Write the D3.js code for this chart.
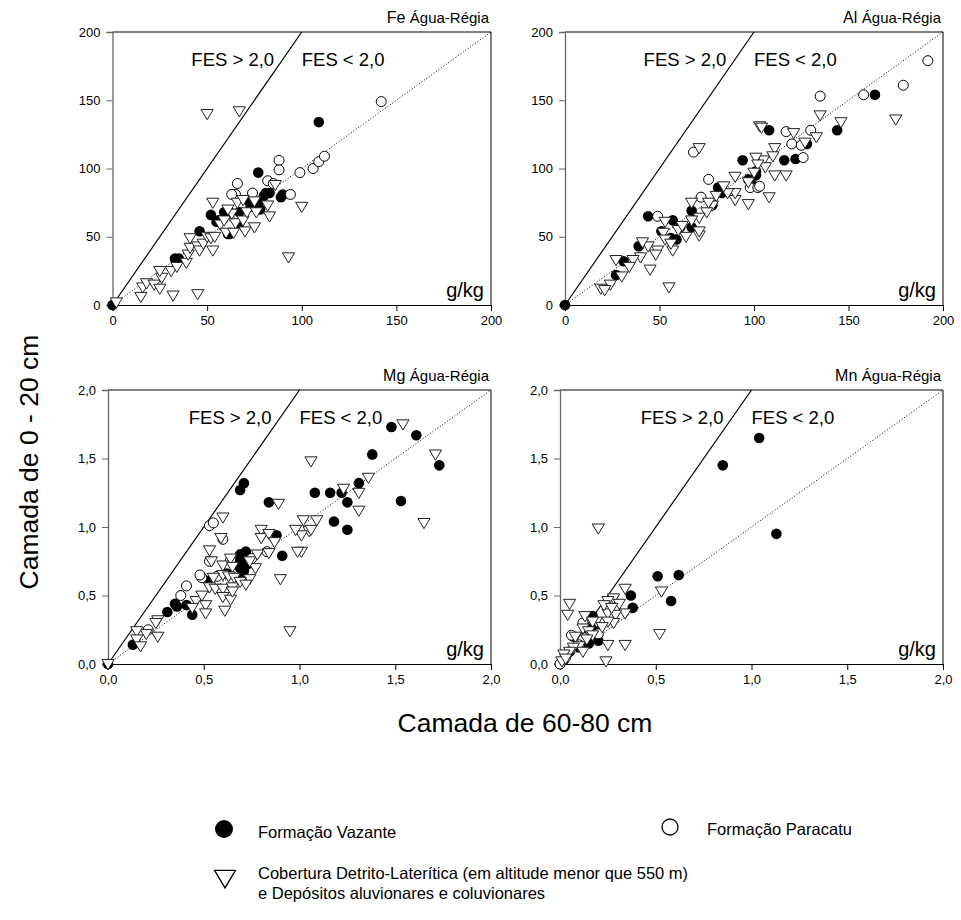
<!DOCTYPE html>
<html><head><meta charset="utf-8">
<script src="https://cdn.jsdelivr.net/npm/d3@7"></script>
<style>body{margin:0;background:#fff}svg{display:block}text{font-family:"Liberation Sans",Arial,sans-serif}</style>
</head><body><svg id="c" width="961" height="920"></svg>
<script>
// ---------- DATA ----------
const seriesNames = ["Formação Vazante", "Formação Paracatu", "Cobertura Detrito-Laterítica (em altitude menor que 550 m)", "e Depósitos aluvionares e coluvionares"];
const ticksFeAl = [0, 50, 100, 150, 200];
const ticksMgMn = [0, 0.5, 1.0, 1.5, 2.0];

const feVazante = [[0,0],[33,34],[35,34],[46,54],[52,66],[55,61],[59,68],[67,68],[62,52],[72,76],[77,97],[77,74],[81,82],[83,82],[89,79],[90,81],[78,70],[67,60],[109,134],[56,62],[73,72],[62,68],[61,52],[80,80]];
const feParacatu = [[66,89],[88,106],[88,99],[82,91],[85,89],[99,97],[106,100],[94,81],[65,81],[63,81],[142,149],[109,105],[112,109],[74,82]];
const feCobertura = [[50,140],[67,142],[93,35],[100,72],[45,8],[32,7],[15,6],[16,13],[18,16],[22,15],[25,12],[26,20],[25,25],[31,25],[34,28],[39,31],[40,37],[41,42],[41,49],[45,43],[46,40],[48,45],[50,50],[53,40],[52,49],[54,50],[53,75],[57,59],[60,53],[59,62],[64,53],[65,60],[63,67],[66,75],[69,62],[70,54],[75,57],[71,68],[75,76],[76,68],[82,73],[83,65],[86,88],[69,77],[61,70],[2,2]];

const alVazante = [[0,0],[44,65],[51,54],[57,62],[61,57],[56,49],[59,48],[67,69],[67,57],[39,43],[31,32],[27,22],[81,86],[83,82],[94,106],[97,92],[101,98],[99,88],[108,128],[78,73],[164,154],[144,128],[116,106],[122,107],[128,118],[101,95]];
const alParacatu = [[68,112],[76,92],[72,79],[49,65],[98,86],[102,86],[192,179],[179,161],[135,153],[158,154],[117,127],[130,128],[120,118],[125,117],[126,108],[103,87]];
const alCobertura = [[135,139],[146,134],[175,136],[133,123],[127,119],[121,126],[111,95],[117,95],[108,79],[111,115],[110,109],[105,106],[103,131],[106,101],[104,130],[71,115],[97,74],[90,77],[90,82],[86,82],[84,87],[78,73],[75,68],[71,64],[67,75],[67,62],[71,51],[64,50],[53,61],[52,53],[53,48],[49,40],[48,37],[44,43],[41,46],[45,26],[55,13],[40,35],[36,33],[34,28],[27,33],[30,21],[24,15],[19,12],[21,11],[57,40],[56,45],[76,75],[90,94],[97,90],[101,108],[102,103],[100,97],[71,54],[60,55],[80,80],[62,58]];

const mgVazante = [[0,0],[0.13,0.14],[0.31,0.38],[0.35,0.44],[0.36,0.42],[0.41,0.43],[0.44,0.36],[0.53,0.61],[0.69,1.27],[0.71,1.32],[0.84,1.18],[0.88,0.94],[0.91,0.79],[0.69,0.80],[0.72,0.82],[0.70,0.65],[0.69,0.70],[0.73,0.73],[0.62,0.66],[1.08,1.25],[1.48,1.73],[1.61,1.67],[1.38,1.53],[1.73,1.45],[1.16,1.25],[1.22,1.25],[1.25,1.18],[1.31,1.32],[1.53,1.19],[1.18,1.04],[1.25,0.98],[0.69,0.76],[0.71,0.68]];
const mgParacatu = [[0.53,1.01],[0.55,1.03],[0.60,0.91],[0.53,0.75],[0.49,0.63],[0.41,0.57],[0.38,0.50],[0.83,0.82],[0.75,0.77],[0.21,0.25],[0.57,0.64],[0.64,0.76],[0.48,0.65]];
const mgCobertura = [[1.54,1.75],[1.06,1.48],[1.71,1.53],[1.65,1.03],[1.36,1.36],[1.23,1.28],[1.31,1.25],[1.31,1.12],[1.09,1.05],[1.02,1.05],[1.05,0.97],[1.01,0.94],[1.01,0.82],[0.89,1.17],[0.60,1.07],[0.95,0.24],[0.90,0.62],[0.99,0.82],[0.98,0.98],[0.80,0.98],[0.80,0.92],[0.84,0.95],[0.87,0.89],[0.78,0.80],[0.84,0.81],[0.59,0.92],[0.53,0.83],[0.54,0.75],[0.60,0.72],[0.64,0.77],[0.65,0.71],[0.60,0.65],[0.63,0.64],[0.66,0.63],[0.55,0.63],[0.53,0.56],[0.56,0.55],[0.60,0.55],[0.65,0.56],[0.60,0.49],[0.64,0.47],[0.61,0.39],[0.65,0.53],[0.74,0.62],[0.77,0.70],[0.74,0.75],[0.51,0.43],[0.51,0.37],[0.46,0.46],[0.44,0.41],[0.49,0.50],[0.26,0.32],[0.25,0.30],[0.26,0.20],[0.20,0.22],[0.15,0.24],[0.15,0.18],[0.17,0.13],[0,0],[1.06,0.98],[0.69,0.60],[0.72,0.58]];

const mnVazante = [[1.04,1.65],[0.85,1.45],[0.51,0.64],[0.62,0.65],[0.58,0.46],[0.37,0.50],[0.38,0.41],[1.13,0.95],[0.07,0.20],[0.17,0.35],[0.20,0.17],[0.15,0.15],[0.14,0.26],[0.18,0.28],[0.05,0.09],[0.02,0.03],[0,0],[0.10,0.12]];
const mnParacatu = [[0.06,0.21],[0.20,0.22],[0.10,0.14],[0.03,0.05],[0,0],[0.12,0.30]];
const mnCobertura = [[0.20,0.99],[0.05,0.44],[0.04,0.36],[0.53,0.53],[0.52,0.22],[0.24,0.02],[0.34,0.14],[0.25,0.14],[0.34,0.55],[0.28,0.48],[0.31,0.44],[0.34,0.37],[0.25,0.46],[0.25,0.37],[0.29,0.36],[0.28,0.30],[0.21,0.30],[0.23,0.43],[0.13,0.35],[0.12,0.26],[0.15,0.24],[0.08,0.20],[0.10,0.13],[0.07,0.12],[0.05,0.09],[0.02,0.07],[0.17,0.21],[0.19,0.31],[0.25,0.31],[0.27,0.41],[0.17,0.31],[0.14,0.18],[0.12,0.09],[0.01,0.02],[0.03,0.04],[0.22,0.27]];

// ---------- LAYOUT ----------
const svg = d3.select("#c");
const FONT = '"Liberation Sans",Arial,sans-serif';
const comma = d => d3.format(".1f")(d).replace(".", ",");

const panels = [
  {el:"Fe", max:200, ticks:ticksFeAl, fmt:d=>String(d), L:112.5, R:491, T:32, B:305, data:[feVazante, feParacatu, feCobertura]},
  {el:"Al", max:200, ticks:ticksFeAl, fmt:d=>String(d), L:565, R:943, T:32, B:305, data:[alVazante, alParacatu, alCobertura]},
  {el:"Mg", max:2, ticks:ticksMgMn, fmt:comma, L:108, R:491, T:390, B:664, data:[mgVazante, mgParacatu, mgCobertura]},
  {el:"Mn", max:2, ticks:ticksMgMn, fmt:comma, L:560, R:943, T:390, B:664, data:[mnVazante, mnParacatu, mnCobertura]}
];

const tri = (s) => `M${-s*0.58},${-s*0.42}L${s*0.58},${-s*0.42}L0,${s*0.55}Z`;

panels.forEach(p => {
  const x = d3.scaleLinear().domain([0, p.max]).range([p.L, p.R]);
  const y = d3.scaleLinear().domain([0, p.max]).range([p.B, p.T]);
  const g = svg.append("g");

  g.append("line").attr("x1", p.L).attr("x2", p.R).attr("y1", p.T).attr("y2", p.T).attr("stroke", "#000");
  g.append("line").attr("x1", p.R).attr("x2", p.R).attr("y1", p.T).attr("y2", p.B).attr("stroke", "#000");

  const xa = g.append("g").attr("transform", `translate(0,${p.B})`)
    .call(d3.axisBottom(x).tickValues(p.ticks).tickFormat(p.fmt).tickSizeOuter(0).tickSize(6).tickPadding(5));
  const ya = g.append("g").attr("transform", `translate(${p.L},0)`)
    .call(d3.axisLeft(y).tickValues(p.ticks).tickFormat(p.fmt).tickSizeOuter(0).tickSize(6).tickPadding(6));
  [xa, ya].forEach(a => {
    a.selectAll("text").attr("font-family", FONT).attr("font-size", 13).attr("fill", "#000");
    a.selectAll("line").attr("stroke", "#000");
  });
  xa.select(".domain").attr("stroke", "#000");
  ya.select(".domain").attr("stroke", "#666").attr("stroke-width", 1.3);
  ya.selectAll(".tick line").attr("stroke", "#666");

  g.append("line").attr("x1", x(0)).attr("y1", y(0)).attr("x2", x(p.max/2)).attr("y2", y(p.max))
    .attr("stroke", "#000").attr("stroke-width", 1.2);
  g.append("line").attr("x1", x(0)).attr("y1", y(0)).attr("x2", x(p.max)).attr("y2", y(p.max))
    .attr("stroke", "#000").attr("stroke-width", 1).attr("stroke-dasharray", "1,2");

  const fesY = p.T + 34;
  g.append("text").attr("x", x(p.max*0.427)).attr("y", fesY).attr("text-anchor", "end")
    .attr("font-size", 18.5).text("FES > 2,0");
  g.append("text").attr("x", x(p.max*0.5)).attr("y", fesY).attr("text-anchor", "start")
    .attr("font-size", 18.5).text("FES < 2,0");
  g.append("text").attr("x", p.R - 7).attr("y", p.B - 8).attr("text-anchor", "end")
    .attr("font-size", 20).text("g/kg");
  const t = g.append("text").attr("x", p.R - 2).attr("y", p.T - 9).attr("text-anchor", "end").attr("font-size", 16);
  t.append("tspan").text(p.el + " ");
  t.append("tspan").attr("font-size", 15).text("Água-Régia");

  g.append("g").selectAll("circle").data(p.data[0]).join("circle")
    .attr("cx", d => x(d[0])).attr("cy", d => y(d[1])).attr("r", 5.3).attr("fill", "#000");
  g.append("g").selectAll("circle").data(p.data[1]).join("circle")
    .attr("cx", d => x(d[0])).attr("cy", d => y(d[1])).attr("r", 5).attr("fill", "#fff").attr("stroke", "#000").attr("stroke-width", 1);
  g.append("g").selectAll("path").data(p.data[2]).join("path")
    .attr("transform", d => `translate(${x(d[0])},${y(d[1])})`).attr("d", tri(10.5))
    .attr("fill", "#fff").attr("stroke", "#222").attr("stroke-width", 1);
});

svg.append("text").attr("transform", "translate(38,462) rotate(-90)").attr("text-anchor", "middle")
  .attr("font-size", 26.5).text("Camada de 0 - 20 cm");
svg.append("text").attr("x", 525).attr("y", 732).attr("text-anchor", "middle")
  .attr("font-size", 26.5).text("Camada de 60-80 cm");

const lg = svg.append("g").attr("font-size", 16.5);
lg.append("circle").attr("cx", 224).attr("cy", 829).attr("r", 9).attr("fill", "#000");
lg.append("text").attr("x", 258).attr("y", 838).text(seriesNames[0]);
lg.append("circle").attr("cx", 670).attr("cy", 827).attr("r", 8).attr("fill", "#fff").attr("stroke", "#000").attr("stroke-width", 1.3);
lg.append("text").attr("x", 707).attr("y", 835).text(seriesNames[1]);
lg.append("path").attr("transform", "translate(225,878)").attr("d", tri(18)).attr("fill", "#fff").attr("stroke", "#000").attr("stroke-width", 1.3);
lg.append("text").attr("x", 258).attr("y", 879).text(seriesNames[2]);
lg.append("text").attr("x", 258).attr("y", 899).text(seriesNames[3]);
</script></body></html>
